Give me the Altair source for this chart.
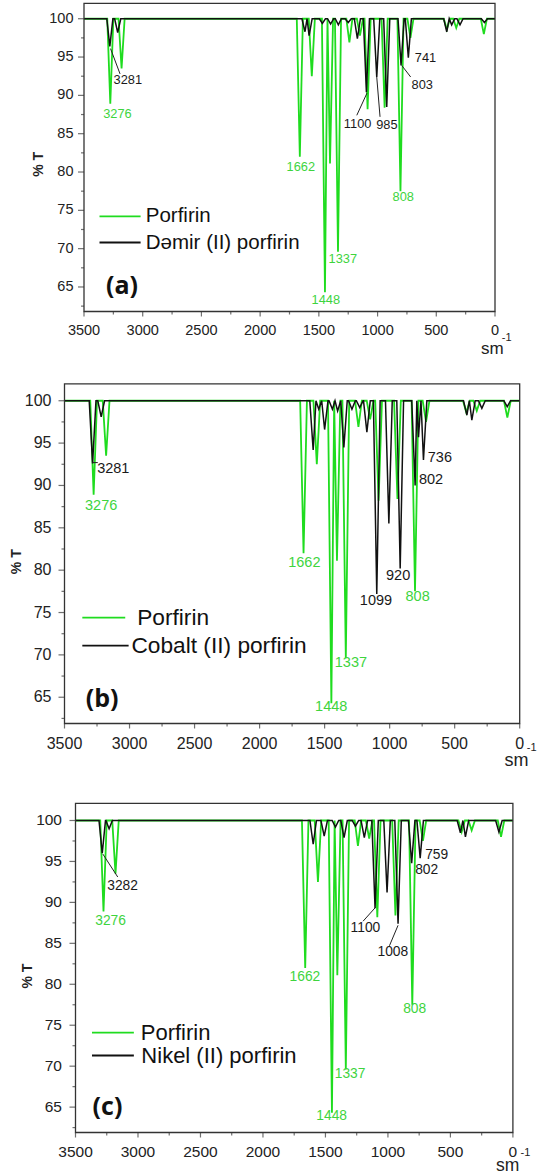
import altair as alt
import pandas as pd

# ---------------- data ----------------
# Porfirin (same sample in every panel): band position (sm^-1) and %T at the band tip
porfirin_nu = [3276, 3180, 1662, 1560, 1448, 1405, 1337, 1240, 1150, 1085, 940, 805, 720, 410, 330, 95]
porfirin_t = [88.9, 93.5, 82.0, 92.5, 64.3, 81.1, 69.6, 96.9, 97.8, 88.2, 88.4, 77.5, 97.5, 98.6, 98.8, 98.0]

# Demir (II) porfirin
demir_nu = [3280, 3213, 1618, 1583, 1470, 1400, 1334, 1250, 1172, 1095, 1007, 922, 800, 738, 411, 369, 298, 90]
demir_t = [96.4, 98.2, 98.3, 97.8, 99.4, 99.3, 99.2, 99.5, 97.4, 90.4, 92.4, 88.5, 93.9, 94.9, 98.3, 99.2, 99.2, 99.5]

# Cobalt (II) porfirin
cobalt_nu = [3284, 3218, 1588, 1545, 1500, 1440, 1400, 1352, 1290, 1230, 1175, 1099, 1006, 919, 804, 778, 740, 406, 368, 291, 96]
cobalt_t = [92.6, 98.1, 94.2, 99.0, 96.6, 99.0, 98.8, 94.5, 99.0, 99.2, 96.3, 77.2, 85.5, 80.2, 90.0, 95.7, 93.0, 98.3, 97.7, 99.1, 99.3]

# Nikel (II) porfirin
nikel_nu = [3286, 3231, 1598, 1510, 1420, 1351, 1260, 1189, 1103, 1007, 919, 810, 742, 420, 380, 112]
nikel_t = [96.0, 99.0, 97.1, 98.1, 99.2, 97.9, 99.3, 97.9, 89.3, 91.2, 87.4, 94.8, 95.4, 98.5, 98.0, 98.6]

# axis ticks and tick labels
x_major = [3500, 3000, 2500, 2000, 1500, 1000, 500, 0]
x_labels = ["3500", "3000", "2500", "2000", "1500", "1000", "500", "0"]
x_minor = [3250, 2750, 2250, 1750, 1250, 750, 250]
y_major = [65, 70, 75, 80, 85, 90, 95, 100]
y_labels = ["65", "70", "75", "80", "85", "90", "95", "100"]
y_minor = [62.5, 67.5, 72.5, 77.5, 82.5, 87.5, 92.5, 97.5]

# peak labels: text, position (sm^-1, %T), kind (g = Porfirin, k = metal complex)
labels_a = [("3276", 3215, 87.6, "g"), ("3281", 3127, 92.0, "k"), ("1662", 1654, 80.7, "g"),
            ("1448", 1441, 63.3, "g"), ("1337", 1296, 68.6, "g"), ("808", 781, 76.7, "g"),
            ("1100", 1170, 86.3, "k"), ("985", 921, 86.1, "k"), ("803", 620, 91.4, "k"),
            ("741", 592, 94.9, "k")]
labels_b = [("3276", 3218, 87.6, "g"), ("3281", 3125, 91.9, "k"), ("1662", 1656, 80.8, "g"),
            ("1448", 1449, 63.8, "g"), ("1337", 1298, 69.0, "g"), ("1099", 1105, 76.4, "k"),
            ("920", 935, 79.3, "k"), ("808", 785, 76.8, "g"), ("802", 682, 90.7, "k"),
            ("736", 614, 93.2, "k")]
labels_c = [("3276", 3219, 87.7, "g"), ("3282", 3123, 92.0, "k"), ("1662", 1664, 80.9, "g"),
            ("1448", 1450, 63.9, "g"), ("1337", 1303, 69.0, "g"), ("808", 786, 77.0, "g"),
            ("1100", 1180, 86.9, "k"), ("1008", 961, 84.0, "k"), ("802", 690, 93.9, "k"),
            ("759", 610, 95.8, "k")]

# leader lines (from, to) in (sm^-1, %T)
leaders_a = [(3274, 96.1, 3193, 92.8), (1177, 87.4, 1090, 90.3), (979, 87.2, 1007, 92.4), (718, 92.4, 794, 93.9)]
leaders_b = [(3284, 92.7, 3244, 92.7)]
leaders_c = [(3281, 95.9, 3162, 93.1), (1199, 87.7, 1099, 89.4), (988, 84.7, 919, 87.2)]

GREEN = "#1fdc1f"
GREEN_TXT = "#3ed43e"
BLACK = "#111111"
AX = "#333333"
FONT = "Liberation Sans"


def spectrum_df(nu, t, hw=26.0):
    pairs = sorted(zip(nu, t), key=lambda p: -p[0])
    xs, ys = [3500.0], [100.0]
    for i, (c, d) in enumerate(pairs):
        gl = pairs[i - 1][0] - c if i > 0 else 1e9
        gr = c - pairs[i + 1][0] if i < len(pairs) - 1 else 1e9
        xs += [c + min(hw, gl / 2), c, c - min(hw, gr / 2)]
        ys += [100.0, d, 100.0]
    xs.append(0.0)
    ys.append(100.0)
    return pd.DataFrame({"x": xs, "t": ys, "i": list(range(len(xs)))})


def panel(p):
    xs = alt.Scale(domain=[3500, 0], range=[p["x0"], p["x1"]], nice=False, zero=False)
    ys = alt.Scale(domain=[p["ymin"], p["ymax"]], range=[p["H"], p["top"]], nice=False, zero=False)

    def X(f="x"):
        return alt.X(f + ":Q", scale=xs, axis=None)

    def Y(f="t"):
        return alt.Y(f + ":Q", scale=ys, axis=None)

    H, x0 = p["H"], p["x0"]

    frame = alt.Chart(pd.DataFrame({"x": [3500], "x2": [0], "t": [p["ymax"]], "t2": [p["ymin"]]})).mark_rect(
        filled=False, color=AX, strokeWidth=1.3).encode(x=X(), x2="x2", y=Y(), y2="t2")

    # axis ticks
    xmaj = alt.Chart(pd.DataFrame({"x": x_major})).mark_tick(
        color=AX, size=5, thickness=1.2, orient="vertical").encode(x=X(), y=alt.value(H + 2.5))
    xmin = alt.Chart(pd.DataFrame({"x": x_minor})).mark_tick(
        color=AX, size=3, thickness=1.2, orient="vertical").encode(x=X(), y=alt.value(H + 1.5))
    ymaj = alt.Chart(pd.DataFrame({"t": y_major})).mark_tick(
        color=AX, size=6, thickness=1.2, orient="horizontal").encode(y=Y(), x=alt.value(x0 - 3))
    ymin = alt.Chart(pd.DataFrame({"t": [v for v in y_minor if v >= p["ymin"]]})).mark_tick(
        color=AX, size=3, thickness=1.2, orient="horizontal").encode(y=Y(), x=alt.value(x0 - 1.5))

    # tick labels
    xlab = alt.Chart(pd.DataFrame({"x": x_major, "text": x_labels})).mark_text(
        font=FONT, fontSize=p["tick_fs"], baseline="middle", color="#222").encode(
        x=X(), y=alt.value(H + p["xlab_dy"]), text="text:N")
    ylab = alt.Chart(pd.DataFrame({"t": y_major, "text": y_labels})).mark_text(
        font=FONT, fontSize=p["tick_fs"], baseline="middle", align="right", color="#222").encode(
        y=Y(), x=alt.value(x0 - p["ylab_dx"]), text="text:N")
    ytitle = alt.Chart(pd.DataFrame({"t": [81.0], "text": ["% T"]})).mark_text(
        font=FONT, fontSize=14, fontWeight="bold", angle=270, baseline="middle", color="#222").encode(
        y=Y(), x=alt.value(x0 - p["title_dx"]), text="text:N")

    green = alt.Chart(spectrum_df(porfirin_nu, porfirin_t)).mark_line(color=GREEN, strokeWidth=1.8).encode(
        x=X(), y=Y(), order="i:Q")
    black = alt.Chart(spectrum_df(p["nu"], p["tt"])).mark_line(color=BLACK, strokeWidth=1.5).encode(
        x=X(), y=Y(), order="i:Q")

    ld = pd.DataFrame(p["leaders"], columns=["x", "t", "x2", "t2"])
    leaders = alt.Chart(ld).mark_rule(color="#222", strokeWidth=1).encode(x=X(), y=Y(), x2="x2", y2="t2")

    lab = pd.DataFrame(p["labels"], columns=["text", "x", "t", "k"])
    lab["c"] = [GREEN_TXT if k == "g" else "#1a1a1a" for k in lab["k"]]
    labels = alt.Chart(lab).mark_text(font=FONT, fontSize=p["lab_fs"], baseline="middle").encode(
        x=X(), y=Y(), text="text:N", color=alt.Color("c:N", scale=None))

    lg = p["legend"]
    legl = pd.DataFrame({"x": [lg["gx"][0], lg["kx"][0]], "x2": [lg["gx"][1], lg["kx"][1]],
                         "t": [lg["gt"], lg["kt"]], "c": [GREEN, BLACK]})
    leg_lines = alt.Chart(legl).mark_rule(strokeWidth=1.8).encode(
        x=X(), x2="x2", y=Y(), color=alt.Color("c:N", scale=None))
    legt = pd.DataFrame({"x": [lg["gtx"], lg["ktx"]], "t": [lg["gt"], lg["kt"]],
                         "text": ["Porfirin", lg["name"]]})
    leg_text = alt.Chart(legt).mark_text(font=FONT, fontSize=p["leg_fs"], align="left", baseline="middle",
                                         color="#111").encode(x=X(), y=Y(), text="text:N")

    letter = alt.Chart(pd.DataFrame({"x": [p["letter"][1]], "t": [p["letter"][2]], "text": [p["letter"][0]]})).mark_text(
        font="Open Sans", fontWeight="bold", fontSize=25, align="left", baseline="middle", color="#111").encode(
        x=X(), y=Y(), text="text:N")

    unit = alt.Chart(pd.DataFrame({"x": [p["sm"][0]], "t": [p["sm"][1]], "text": ["sm"]})).mark_text(
        font=FONT, fontSize=p["sm_fs"], baseline="middle", color="#222").encode(x=X(), y=Y(), text="text:N")
    sup = alt.Chart(pd.DataFrame({"x": [p["sup"][0]], "t": [p["sup"][1]], "text": ["-1"]})).mark_text(
        font=FONT, fontSize=11, baseline="middle", color="#222").encode(x=X(), y=Y(), text="text:N")

    return alt.layer(green, black, frame, xmaj, xmin, ymaj, ymin, xlab, ylab, ytitle, leaders, labels,
                     leg_lines, leg_text, letter, unit, sup).properties(width=530, height=H)


pa = panel(dict(x0=84, x1=495, top=3.4, H=311.5, ymin=61.8, ymax=102.0, nu=demir_nu, tt=demir_t,
                labels=labels_a, leaders=leaders_a, tick_fs=14.5, lab_fs=12.8, leg_fs=20.5, sm_fs=17,
                xlab_dy=19.5, ylab_dx=10.5, title_dx=45,
                legend=dict(gx=(3368, 3018), kx=(3368, 3018), gt=74.2, kt=70.8, gtx=2974, ktx=2974,
                            name="Dəmir (II) porfirin"),
                letter=("(a)", 3313, 65.1), sm=(23, 56.9), sup=(-100, 58.4)))
pb = panel(dict(x0=64.5, x1=519.7, top=7.8, H=347.5, ymin=61.9, ymax=102.0, nu=cobalt_nu, tt=cobalt_t,
                labels=labels_b, leaders=leaders_b, tick_fs=16, lab_fs=14.5, leg_fs=22.7, sm_fs=18,
                xlab_dy=20.5, ylab_dx=13, title_dx=47.5,
                legend=dict(gx=(3363, 3033), kx=(3363, 3007), gt=74.4, kt=71.1, gtx=2941, ktx=2985,
                            name="Cobalt (II) porfirin"),
                letter=("(b)", 3336, 64.8), sm=(25, 57.5), sup=(-92, 59.0)))
pc = panel(dict(x0=75.5, x1=512.9, top=15.3, H=344.5, ymin=61.9, ymax=102.1, nu=nikel_nu, tt=nikel_t,
                labels=labels_c, leaders=leaders_c, tick_fs=15.5, lab_fs=13.8, leg_fs=22, sm_fs=17.5,
                xlab_dy=19, ylab_dx=13.5, title_dx=48,
                legend=dict(gx=(3368, 3033), kx=(3368, 3033), gt=74.1, kt=71.3, gtx=2978, ktx=2973,
                            name="Nikel (II) porfirin"),
                letter=("(c)", 3363, 65.0), sm=(42, 57.8), sup=(-100, 59.4)))

chart = alt.vconcat(pa, pb, pc, spacing=64, bounds="flush", padding=0).configure_view(stroke=None)
chart.save("out.html", embed_options={"renderer": "svg", "actions": False})
